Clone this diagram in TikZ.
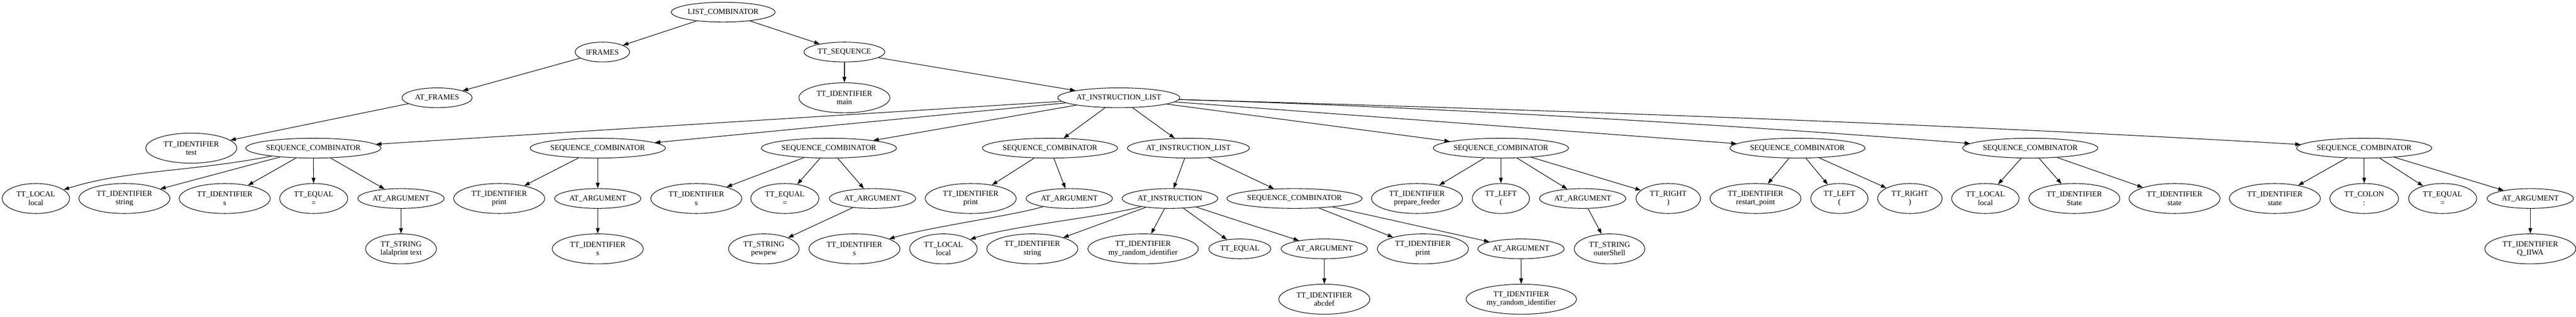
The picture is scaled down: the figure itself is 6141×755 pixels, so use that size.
\documentclass[tikz,border=0pt]{standalone}
\usepackage{fontspec}
\setmainfont{Liberation Serif}
\usetikzlibrary{shapes.geometric,arrows.meta}
\begin{document}
\begin{tikzpicture}[x=0.7634pt,y=-0.7634pt,
  base/.style={ellipse, draw, line width=1pt, font=\fontsize{14pt}{15.3pt}\selectfont, inner ysep=0pt},
  one/.style={base, inner xsep=0pt, minimum height=36pt},
  two/.style={base, inner xsep=8pt, minimum height=54.6pt, minimum width=54pt, align=center},
  wLC/.style={one, minimum width=189pt},
  wFR/.style={one, minimum width=99.2pt},
  wTS/.style={one, minimum width=147pt},
  wAF/.style={one, minimum width=127.7pt},
  wAIL/.style={one, minimum width=222pt},
  wSC/.style={one, minimum width=246pt},
  wARG/.style={one, minimum width=157pt},
  wINS/.style={one, minimum width=174pt},
  wEQ/.style={one, minimum width=113pt},
  conn/.style={line width=1pt, -{Triangle[length=10pt,width=7pt]}}
]
\useasboundingbox (0,0) rectangle (6141,755);
% level 0-2
\node[wLC] (n0) at (1724,29) {LIST\_COMBINATOR};
\node[wFR] (ifr) at (1436,124) {lFRAMES};
\node[wTS] (tseq) at (2013,124) {TT\_SEQUENCE};
\node[wAF] (atf) at (1042,233) {AT\_FRAMES};
\node[two] (idmain) at (2013,233) {TT\_IDENTIFIER\\main};
\node[wAIL] (ail) at (2667,233) {AT\_INSTRUCTION\_LIST};
% level 3
\node[two] (idtest) at (456,353) {TT\_IDENTIFIER\\test};
\node[wSC] (sa) at (747,353) {SEQUENCE\_COMBINATOR};
\node[wSC] (sb) at (1425,353) {SEQUENCE\_COMBINATOR};
\node[wSC] (sc) at (1976,353) {SEQUENCE\_COMBINATOR};
\node[wSC] (sd) at (2503,353) {SEQUENCE\_COMBINATOR};
\node[wAIL] (ail2) at (2833,353) {AT\_INSTRUCTION\_LIST};
\node[wSC] (se) at (3578,353) {SEQUENCE\_COMBINATOR};
\node[wSC] (sf) at (4285,353) {SEQUENCE\_COMBINATOR};
\node[wSC] (sg) at (4840,353) {SEQUENCE\_COMBINATOR};
\node[wSC] (sh) at (5636,353) {SEQUENCE\_COMBINATOR};
% level 4
\node[two] (a1) at (85.5,473) {TT\_LOCAL\\local};
\node[two] (a2) at (296.6,473) {TT\_IDENTIFIER\\string};
\node[two] (a3) at (535.7,473) {TT\_IDENTIFIER\\s};
\node[two] (a4) at (747.8,473) {TT\_EQUAL\\=};
\node[wARG] (a5) at (956,473) {AT\_ARGUMENT};
\node[two] (b1) at (1190,473) {TT\_IDENTIFIER\\print};
\node[wARG] (b2) at (1425,473) {AT\_ARGUMENT};
\node[two] (c1) at (1660,473) {TT\_IDENTIFIER\\s};
\node[two] (c2) at (1871,473) {TT\_EQUAL\\=};
\node[wARG] (c3) at (2080,473) {AT\_ARGUMENT};
\node[two] (d1) at (2314,473) {TT\_IDENTIFIER\\print};
\node[wARG] (d2) at (2549,473) {AT\_ARGUMENT};
\node[wINS] (ins) at (2789,473) {AT\_INSTRUCTION};
\node[wSC] (si) at (3086,473) {SEQUENCE\_COMBINATOR};
\node[two] (e1) at (3378,473) {TT\_IDENTIFIER\\prepare\_feeder};
\node[two] (e2) at (3578,473) {TT\_LEFT\\(};
\node[wARG] (e3) at (3773,473) {AT\_ARGUMENT};
\node[two] (e4) at (3977,473) {TT\_RIGHT\\)};
\node[two] (f1) at (4185,473) {TT\_IDENTIFIER\\restart\_point};
\node[two] (f2) at (4385,473) {TT\_LEFT\\(};
\node[two] (f3) at (4553,473) {TT\_RIGHT\\)};
\node[two] (g1) at (4733,473) {TT\_LOCAL\\local};
\node[two] (g2) at (4945,473) {TT\_IDENTIFIER\\State};
\node[two] (g3) at (5184,473) {TT\_IDENTIFIER\\state};
\node[two] (h1) at (5423,473) {TT\_IDENTIFIER\\state};
\node[two] (h2) at (5636,473) {TT\_COLON\\:};
\node[two] (h3) at (5823,473) {TT\_EQUAL\\=};
\node[wARG] (h4) at (6032,473) {AT\_ARGUMENT};
% level 5
\node[two] (a51) at (956,593) {TT\_STRING\\lalalprint text};
\node[two] (b21) at (1425,593) {TT\_IDENTIFIER\\s};
\node[two] (c31) at (1821,593) {TT\_STRING\\pewpew};
\node[two] (d21) at (2037,593) {TT\_IDENTIFIER\\s};
\node[two] (i1) at (2249,593) {TT\_LOCAL\\local};
\node[two] (i2) at (2461,593) {TT\_IDENTIFIER\\string};
\node[two] (i3) at (2725,593) {TT\_IDENTIFIER\\my\_random\_identifier};
\node[wEQ] (i4) at (2955.6,593) {TT\_EQUAL};
\node[wARG] (i5) at (3157,593) {AT\_ARGUMENT};
\node[two] (j1) at (3392,593) {TT\_IDENTIFIER\\print};
\node[wARG] (j2) at (3626,593) {AT\_ARGUMENT};
\node[two] (e31) at (3837,593) {TT\_STRING\\outerShell};
\node[two] (h41) at (6032,593) {TT\_IDENTIFIER\\Q\_IIWA};
% level 6
\node[two] (i51) at (3157,713) {TT\_IDENTIFIER\\abcdef};
\node[two] (j21) at (3626.6,713) {TT\_IDENTIFIER\\my\_random\_identifier};
% edges
\draw[conn] (n0) -- (ifr);
\draw[conn] (n0) -- (tseq);
\draw[conn] (ifr) -- (atf);
\draw[conn] (atf) -- (idtest);
\draw[conn] (tseq) -- (idmain);
\draw[conn] (tseq) -- (ail);
\draw[conn] (ail) -- (sa);
\draw[conn] (ail) -- (sb);
\draw[conn] (ail) -- (sc);
\draw[conn] (ail) -- (sd);
\draw[conn] (ail) -- (ail2);
\draw[conn] (ail) -- (se);
\draw[conn] (ail) -- (sf);
\draw[conn] (ail) .. controls (3400,254.6) and (4108,296) .. (sg);
\draw[conn] (ail) .. controls (3712,263) and (4589,293) .. (sh);
\draw[conn] (sa) .. controls (450,410) and (300,405) .. (a1);
\draw[conn] (sa) -- (a2);
\draw[conn] (sa) -- (a3);
\draw[conn] (sa) -- (a4);
\draw[conn] (sa) -- (a5);
\draw[conn] (a5) -- (a51);
\draw[conn] (sb) -- (b1);
\draw[conn] (sb) -- (b2);
\draw[conn] (b2) -- (b21);
\draw[conn] (sc) -- (c1);
\draw[conn] (sc) -- (c2);
\draw[conn] (sc) -- (c3);
\draw[conn] (c3) -- (c31);
\draw[conn] (sd) -- (d1);
\draw[conn] (sd) -- (d2);
\draw[conn] (d2) .. controls (2420,513) and (2220,540) .. (d21);
\draw[conn] (ail2) -- (ins);
\draw[conn] (ail2) -- (si);
\draw[conn] (ins) .. controls (2640,515) and (2400,540) .. (i1);
\draw[conn] (ins) -- (i2);
\draw[conn] (ins) -- (i3);
\draw[conn] (ins) -- (i4);
\draw[conn] (ins) -- (i5);
\draw[conn] (i5) -- (i51);
\draw[conn] (si) -- (j1);
\draw[conn] (si) -- (j2);
\draw[conn] (j2) -- (j21);
\draw[conn] (se) -- (e1);
\draw[conn] (se) -- (e2);
\draw[conn] (se) -- (e3);
\draw[conn] (se) -- (e4);
\draw[conn] (e3) -- (e31);
\draw[conn] (sf) -- (f1);
\draw[conn] (sf) -- (f2);
\draw[conn] (sf) -- (f3);
\draw[conn] (sg) -- (g1);
\draw[conn] (sg) -- (g2);
\draw[conn] (sg) -- (g3);
\draw[conn] (sh) -- (h1);
\draw[conn] (sh) -- (h2);
\draw[conn] (sh) -- (h3);
\draw[conn] (sh) -- (h4);
\draw[conn] (h4) -- (h41);
\end{tikzpicture}
\end{document}
